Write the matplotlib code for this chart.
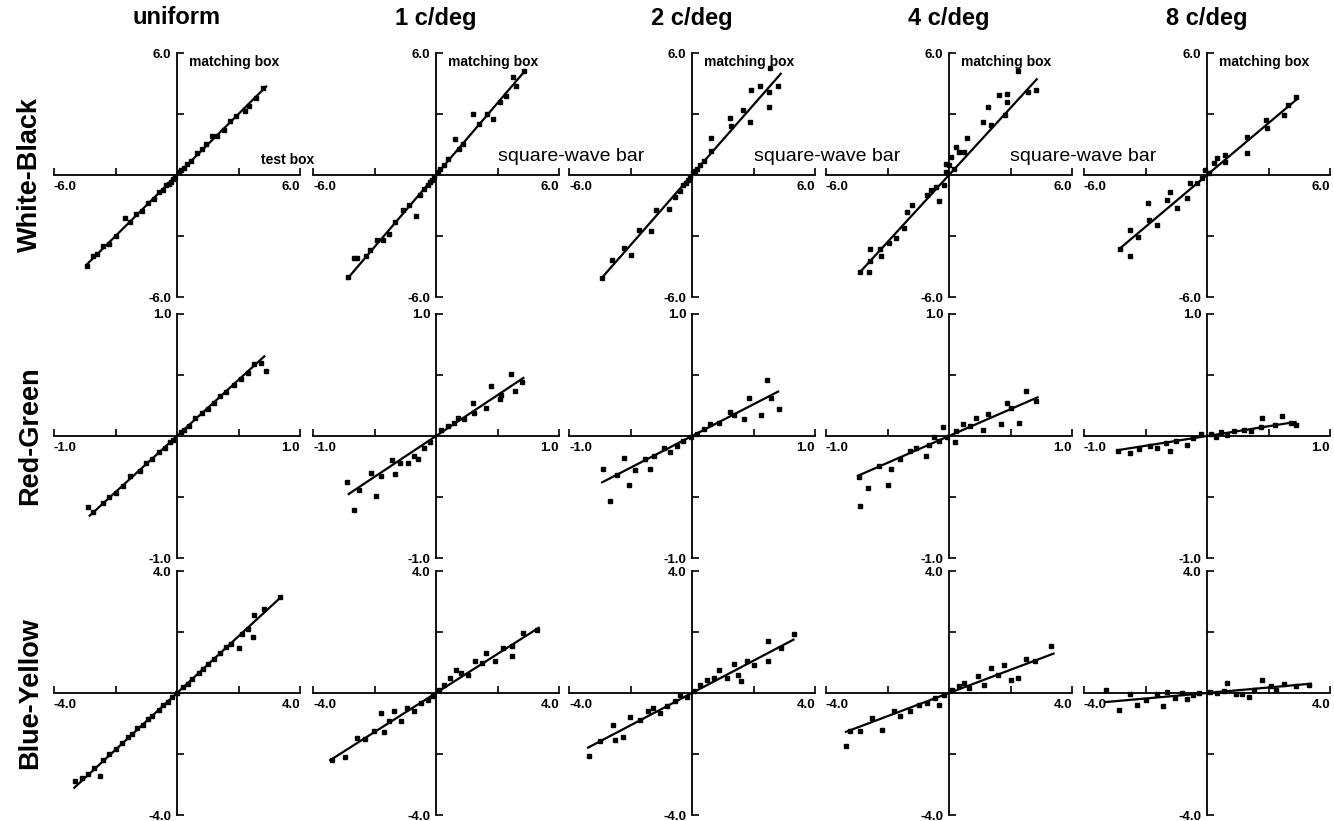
import numpy as np
import matplotlib.pyplot as plt

plt.rcParams['font.family'] = ['Liberation Sans', 'DejaVu Sans']

# column / row headings
col_titles = ['uniform', '1 c/deg', '2 c/deg', '4 c/deg', '8 c/deg']
row_labels = ['White-Black', 'Red-Green', 'Blue-Yellow']
row_lims = [6.0, 1.0, 4.0]

# White-Black
wb0_x = [-4.4, -4.1, -3.9, -3.6, -3.3, -3.0, -2.56, -2.3, -2.0, -1.7, -1.4, -1.1, -0.9, -0.7, -0.55, -0.4, -0.3, -0.2, -0.1,
         0.1, 0.2, 0.35, 0.5, 0.7, 0.98, 1.2, 1.4, 1.7, 1.97, 2.3, 2.6, 2.9, 3.34, 3.5, 3.84, 4.2]
wb0_y = [-4.5, -4.0, -3.9, -3.5, -3.4, -3.0, -2.1, -2.3, -1.9, -1.75, -1.4, -1.2, -0.85, -0.75, -0.5, -0.45, -0.35, -0.2, -0.1,
         0.15, 0.25, 0.35, 0.55, 0.7, 1.08, 1.3, 1.5, 1.9, 1.92, 2.2, 2.65, 2.9, 3.15, 3.4, 3.8, 4.3]
wb0_fit = [-4.4, 4.35, 1.0]

wb1_x = [-4.3, -4.0, -3.84, -3.4, -3.2, -2.9, -2.6, -2.3, -2.0, -1.6, -1.3, -0.98, -0.8, -0.6, -0.4, -0.3, -0.2, -0.1,
         0.1, 0.2, 0.4, 0.6, 0.93, 1.1, 1.3, 1.82, 2.1, 2.5, 2.8, 3.1, 3.4, 3.74, 3.9, 4.3]
wb1_y = [-5.0, -4.1, -4.08, -4.0, -3.7, -3.2, -3.2, -2.9, -2.3, -1.7, -1.5, -2.0, -1.0, -0.7, -0.5, -0.35, -0.25, -0.1,
         0.15, 0.3, 0.5, 0.8, 1.77, 1.3, 1.5, 3.0, 2.5, 3.0, 2.75, 3.6, 3.9, 4.82, 4.4, 5.1]
wb1_fit = [-4.33, 4.23, 1.18]

wb2_x = [-4.38, -3.9, -3.3, -3.0, -2.6, -2.0, -1.75, -1.1, -0.85, -0.6, -0.45, -0.3, -0.2, -0.1, 0.05, 0.15, 0.25, 0.4,
         0.6, 0.95, 0.95, 1.85, 1.9, 2.5, 2.85, 2.9, 3.3, 3.75, 3.75, 3.8, 4.2]
wb2_y = [-5.05, -4.2, -3.6, -3.95, -2.7, -2.75, -1.7, -1.65, -1.1, -0.8, -0.5, -0.4, -0.25, -0.1, 0.15, 0.2, 0.3, 0.5,
         0.7, 1.2, 1.8, 2.8, 2.4, 3.2, 2.6, 4.2, 4.4, 3.35, 4.1, 5.25, 4.4]
wb2_fit = [-4.38, 4.33, 1.15]

wb3_x = [-4.35, -3.9, -3.85, -3.85, -3.35, -3.3, -2.95, -2.6, -2.2, -2.05, -1.8, -1.05, -0.9, -0.65, -0.5, -0.25, -0.15,
         -0.15, 0.0, 0.1, 0.25, 0.35, 0.5, 0.75, 0.9, 1.65, 1.9, 2.05, 2.45, 2.75, 2.85, 2.85, 3.35, 3.85, 4.25]
wb3_y = [-4.75, -4.75, -4.25, -3.65, -3.65, -4.0, -3.35, -3.1, -2.6, -1.8, -1.5, -1.0, -0.75, -0.6, -1.3, -0.5, 0.15,
         0.55, 0.5, 0.9, 0.3, 1.4, 1.15, 1.15, 1.8, 2.6, 3.35, 2.45, 3.95, 2.95, 4.0, 3.6, 5.1, 4.1, 4.2]
wb3_fit = [-4.33, 4.28, 1.1]

wb4_x = [-4.26, -3.77, -3.74, -3.36, -2.87, -2.82, -2.46, -1.97, -1.8, -1.48, -0.98, -0.82, -0.49, -0.25, -0.08, 0.08,
         0.33, 0.49, 0.9, 0.9, 1.93, 1.97, 2.87, 2.95, 3.77, 3.93, 4.34]
wb4_y = [-3.66, -2.7, -3.98, -3.07, -1.39, -2.2, -2.46, -1.23, -0.82, -1.64, -1.15, -0.41, -0.41, -0.16, 0.25, 0.08,
         0.57, 0.82, 0.98, 0.66, 1.07, 1.89, 2.7, 2.3, 2.95, 3.44, 3.82]
wb4_fit = [-4.28, 4.4, 0.85]

# Red-Green
rg0_x = [-0.72, -0.68, -0.6, -0.55, -0.5, -0.44, -0.38, -0.3, -0.25, -0.2, -0.15, -0.1, -0.06, -0.03, 0.03, 0.06, 0.1,
         0.15, 0.2, 0.25, 0.3, 0.35, 0.4, 0.46, 0.52, 0.58, 0.63, 0.68, 0.72]
rg0_y = [-0.58, -0.62, -0.55, -0.5, -0.47, -0.41, -0.33, -0.29, -0.22, -0.19, -0.13, -0.1, -0.05, -0.03, 0.03, 0.05, 0.08,
         0.15, 0.19, 0.22, 0.27, 0.33, 0.36, 0.42, 0.47, 0.52, 0.59, 0.6, 0.53]
rg0_fit = [-0.71, 0.71, 0.92]

rg1_x = [-0.72, -0.67, -0.63, -0.53, -0.49, -0.45, -0.36, -0.33, -0.29, -0.23, -0.18, -0.15, -0.1, -0.05, 0.04, 0.1,
         0.15, 0.18, 0.23, 0.3, 0.31, 0.41, 0.45, 0.52, 0.53, 0.61, 0.64, 0.7]
rg1_y = [-0.38, -0.61, -0.44, -0.3, -0.49, -0.33, -0.2, -0.31, -0.22, -0.22, -0.16, -0.19, -0.1, -0.05, 0.05, 0.08,
         0.11, 0.15, 0.14, 0.27, 0.19, 0.23, 0.41, 0.3, 0.34, 0.51, 0.37, 0.44]
rg1_fit = [-0.71, 0.71, 0.67]

rg2_x = [-0.72, -0.67, -0.61, -0.55, -0.51, -0.46, -0.38, -0.34, -0.31, -0.23, -0.18, -0.12, -0.07, -0.01, 0.04, 0.1,
         0.15, 0.22, 0.31, 0.34, 0.42, 0.46, 0.56, 0.61, 0.64, 0.71]
rg2_y = [-0.27, -0.53, -0.32, -0.18, -0.4, -0.28, -0.19, -0.27, -0.16, -0.1, -0.13, -0.08, -0.04, -0.01, 0.02, 0.06,
         0.1, 0.11, 0.2, 0.17, 0.14, 0.31, 0.17, 0.46, 0.31, 0.22]
rg2_fit = [-0.73, 0.7, 0.52]

rg3_x = [-0.73, -0.66, -0.72, -0.57, -0.5, -0.47, -0.4, -0.32, -0.27, -0.19, -0.16, -0.12, -0.08, -0.05, -0.02, 0.05,
         0.06, 0.11, 0.17, 0.22, 0.28, 0.32, 0.42, 0.47, 0.5, 0.57, 0.63, 0.71]
rg3_y = [-0.34, -0.43, -0.57, -0.25, -0.4, -0.27, -0.19, -0.12, -0.1, -0.16, -0.07, -0.01, -0.04, 0.07, -0.01, -0.05,
         0.04, 0.1, 0.08, 0.15, 0.05, 0.18, 0.1, 0.27, 0.23, 0.11, 0.37, 0.29]
rg3_fit = [-0.74, 0.72, 0.44]

rg4_x = [-0.72, -0.63, -0.55, -0.46, -0.41, -0.33, -0.3, -0.25, -0.16, -0.11, -0.05, 0.03, 0.07, 0.11, 0.16, 0.22,
         0.3, 0.36, 0.44, 0.45, 0.55, 0.61, 0.68, 0.72]
rg4_y = [-0.12, -0.14, -0.11, -0.08, -0.1, -0.06, -0.12, -0.04, -0.07, -0.02, 0.02, 0.02, -0.01, 0.03, 0.01, 0.04,
         0.05, 0.04, 0.07, 0.15, 0.09, 0.16, 0.11, 0.09]
rg4_fit = [-0.72, 0.72, 0.16]

# Blue-Yellow
by0_x = [-3.33, -3.1, -2.9, -2.7, -2.51, -2.4, -2.2, -2.0, -1.8, -1.6, -1.45, -1.3, -1.1, -0.95, -0.8, -0.6, -0.45, -0.3,
         -0.15, 0.0, 0.2, 0.35, 0.5, 0.7, 0.85, 1.0, 1.2, 1.4, 1.6, 1.75, 2.02, 2.1, 2.3, 2.48, 2.51, 2.84, 3.36]
by0_y = [-2.9, -2.8, -2.65, -2.45, -2.73, -2.2, -2.0, -1.85, -1.65, -1.45, -1.35, -1.15, -1.05, -0.85, -0.75, -0.55,
         -0.4, -0.3, -0.12, 0.0, 0.2, 0.3, 0.45, 0.65, 0.8, 0.95, 1.1, 1.3, 1.5, 1.6, 1.48, 1.95, 2.1, 1.83, 2.55, 2.77, 3.14]
by0_fit = [-3.34, 3.34, 0.93]

by1_x = [-3.39, -2.95, -2.57, -2.3, -2.02, -1.8, -1.69, -1.53, -1.37, -1.15, -0.93, -0.71, -0.49, -0.27, -0.11, 0.11,
         0.27, 0.44, 0.66, 0.82, 1.04, 1.26, 1.48, 1.64, 1.91, 2.19, 2.46, 2.46, 2.84, 3.28]
by1_y = [-2.19, -2.11, -1.48, -1.5, -1.26, -0.66, -1.28, -0.93, -0.6, -0.93, -0.49, -0.6, -0.33, -0.22, -0.09, 0.11,
         0.27, 0.49, 0.77, 0.66, 0.6, 1.04, 0.98, 1.31, 1.04, 1.48, 1.2, 1.53, 1.97, 2.08]
by1_fit = [-3.44, 3.34, 0.64]

by2_x = [-3.36, -3.0, -2.57, -2.51, -2.24, -2.02, -1.69, -1.42, -1.26, -1.04, -0.82, -0.55, -0.38, -0.16, 0.05, 0.27,
         0.49, 0.71, 0.87, 1.15, 1.37, 1.48, 1.58, 1.8, 2.02, 2.46, 2.46, 2.9, 3.31]
by2_y = [-2.08, -1.58, -1.04, -1.53, -1.45, -0.8, -0.87, -0.6, -0.49, -0.66, -0.44, -0.27, -0.05, -0.14, 0.08, 0.27,
         0.44, 0.49, 0.77, 0.49, 0.95, 0.6, 0.38, 1.04, 0.93, 1.04, 1.72, 1.48, 1.93]
by2_fit = [-3.38, 3.3, 0.53]

by3_x = [-3.36, -3.22, -2.9, -2.51, -2.19, -1.8, -1.58, -1.26, -0.98, -0.71, -0.44, -0.33, -0.16, 0.11, 0.33, 0.49,
         0.66, 0.93, 1.15, 1.37, 1.58, 1.8, 2.02, 2.24, 2.51, 2.79, 3.33]
by3_y = [-1.75, -1.26, -1.23, -0.82, -1.2, -0.6, -0.77, -0.6, -0.38, -0.33, -0.16, -0.38, -0.05, 0.11, 0.22, 0.33,
         0.16, 0.55, 0.27, 0.82, 0.6, 0.93, 0.44, 0.49, 1.13, 1.04, 1.53]
by3_fit = [-3.35, 3.4, 0.38]

by4_x = [-3.3, -2.86, -2.49, -2.27, -1.97, -1.62, -1.42, -1.31, -1.04, -0.82, -0.66, -0.44, -0.27, 0.11, 0.33, 0.55,
         0.66, 0.93, 1.15, 1.37, 1.53, 1.8, 2.08, 2.24, 2.51, 2.9, 3.33]
by4_y = [0.09, -0.57, -0.02, -0.38, -0.22, -0.02, -0.44, 0.02, -0.16, 0.0, -0.2, -0.05, 0.0, 0.02, 0.0, 0.05,
         0.33, -0.02, -0.02, -0.13, 0.11, 0.42, 0.22, 0.09, 0.31, 0.22, 0.25]
by4_fit = [-3.28, 3.38, 0.09]

panels = [
    [(wb0_x, wb0_y, wb0_fit), (wb1_x, wb1_y, wb1_fit), (wb2_x, wb2_y, wb2_fit), (wb3_x, wb3_y, wb3_fit), (wb4_x, wb4_y, wb4_fit)],
    [(rg0_x, rg0_y, rg0_fit), (rg1_x, rg1_y, rg1_fit), (rg2_x, rg2_y, rg2_fit), (rg3_x, rg3_y, rg3_fit), (rg4_x, rg4_y, rg4_fit)],
    [(by0_x, by0_y, by0_fit), (by1_x, by1_y, by1_fit), (by2_x, by2_y, by2_fit), (by3_x, by3_y, by3_fit), (by4_x, by4_y, by4_fit)],
]

W, H = 1334, 821
fig = plt.figure(figsize=(W / 100, H / 100), dpi=100)

col_cx = [177, 436, 692, 949, 1207]
row_cy = [175, 436, 693]
half_w, half_h = 123, 122

for r in range(3):
    lim = row_lims[r]
    for c in range(5):
        xs, ys, fit = panels[r][c]
        ax = fig.add_axes([(col_cx[c] - half_w) / W, (H - row_cy[r] - half_h) / H, 2 * half_w / W, 2 * half_h / H])
        ax.set_xlim(-lim, lim)
        ax.set_ylim(-lim, lim)
        ax.patch.set_visible(False)
        for s in ['top', 'right']:
            ax.spines[s].set_visible(False)
        for s in ['left', 'bottom']:
            ax.spines[s].set_position(('data', 0))
            ax.spines[s].set_linewidth(1.3)
        ticks = [-lim, -lim / 2, lim / 2, lim]
        lab = ['%.1f' % -lim, '', '', '%.1f' % lim]
        ax.set_xticks(ticks)
        ax.set_xticklabels(lab)
        ax.set_yticks(ticks)
        ax.set_yticklabels(lab)
        ax.tick_params(direction='in', length=5, width=1.2, labelsize=9.5, pad=4)
        for t in ax.get_xticklabels() + ax.get_yticklabels():
            t.set_fontweight('bold')
        xl = ax.get_xticklabels()
        xl[0].set_horizontalalignment('left')
        xl[-1].set_horizontalalignment('right')

        # data + fitted line
        ax.plot(xs, ys, 's', color='black', markersize=3.2, clip_on=False)
        fx = np.array(fit[:2])
        ax.plot(fx, fx * fit[2], color='black', linewidth=1.6, clip_on=False)

        if r == 0:
            ax.text(0.1 * lim, 0.93 * lim, 'matching box', fontsize=10, fontweight='bold', va='center', ha='left')
            if c == 0:
                ax.text(4.1, 0.4, 'test box', fontsize=10, fontweight='bold', va='bottom', ha='left')
            elif c < 4:
                ax.text(3.0, 0.5, 'square-wave bar', fontsize=14, va='bottom', ha='left', clip_on=False)

for c in range(5):
    fig.text(col_cx[c] / W, 1 - 18 / H, col_titles[c], fontsize=17, fontweight='bold', ha='center', va='center')
for r in range(3):
    fig.text(30 / W, 1 - row_cy[r] / H, row_labels[r], fontsize=19.5, fontweight='bold', ha='center', va='center', rotation=90)

fig.savefig('out.png', dpi=100)
